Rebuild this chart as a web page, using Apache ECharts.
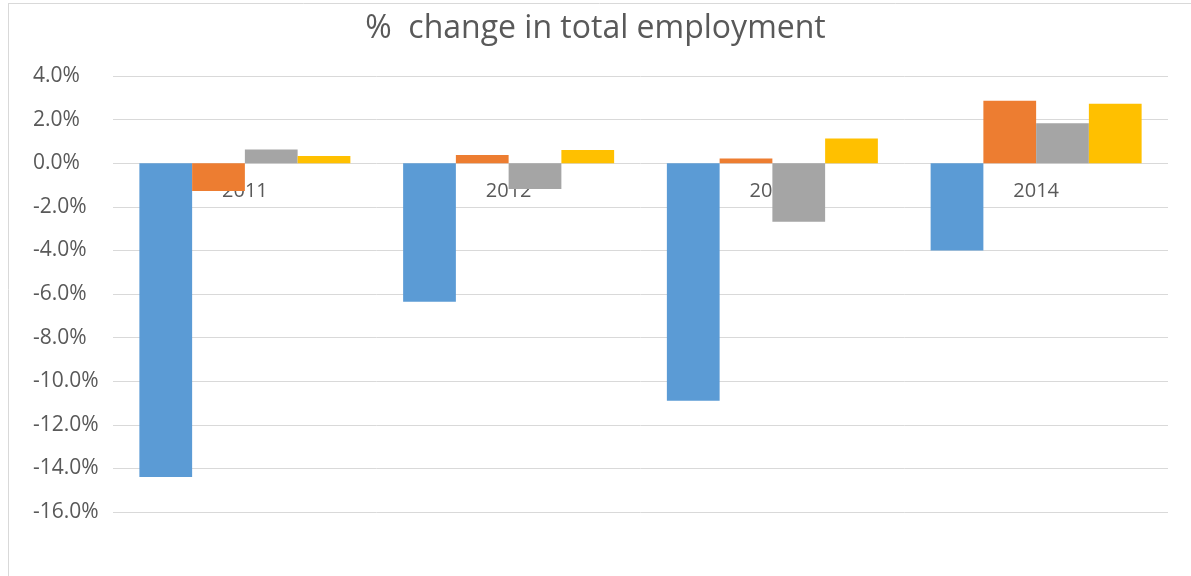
<!DOCTYPE html>
<html>
<head>
<meta charset="utf-8">
<style>
  html, body { margin: 0; padding: 0; background: #fff; }
  #chart { width: 1191px; height: 576px; }
</style>
<script src="https://cdn.jsdelivr.net/npm/echarts@6/dist/echarts.min.js"></script>
</head>
<body>
<div id="chart"></div>
<script>
// Years on the category axis
const years = ['2011', '2012', '2013', '2014'];
// Percentage change in total employment, four series per year
const series1 = [-14.4, -6.35, -10.9, -4.0];
const series2 = [-1.27, 0.38, 0.21, 2.86];
const series3 = [0.63, -1.18, -2.69, 1.83];
const series4 = [0.33, 0.61, 1.13, 2.73];
const seriesNames = ['Series1', 'Series2', 'Series3', 'Series4'];
const seriesColors = ['#5B9BD5', '#ED7D31', '#A5A5A5', '#FFC000'];
// Value axis range and step
const yMin = -16, yMax = 4, yStep = 2;

const chart = echarts.init(document.getElementById('chart'));
const textColor = '#595959';
const font = '"Open Sans", "Noto Sans", sans-serif';

const gridTop = 76, gridBottom = 64;
const plotHeight = 576 - gridTop - gridBottom;
// distance from the bottom of the plot up to the zero line, so the year labels sit just under zero
const zeroLift = plotHeight * (0 - yMin) / (yMax - yMin);

const values = [series1, series2, series3, series4];

chart.setOption({
  animation: false,
  title: {
    text: '%  change in total employment',
    left: 'center',
    top: 8,
    textStyle: { color: textColor, fontSize: 32, fontWeight: 'normal', fontFamily: font }
  },
  grid: { left: 113, right: 23, top: gridTop, bottom: gridBottom, containLabel: false },
  xAxis: {
    type: 'category',
    data: years,
    position: 'bottom',
    offset: -zeroLift,
    axisLine: { show: false, onZero: false },
    axisTick: { show: false },
    axisLabel: { color: textColor, fontSize: 20, fontFamily: font, margin: 18 },
    splitLine: { show: false }
  },
  yAxis: {
    type: 'value',
    min: yMin,
    max: yMax,
    interval: yStep,
    axisLine: { show: false },
    axisTick: { show: false },
    axisLabel: {
      color: textColor, fontSize: 21, fontFamily: font, align: 'left', margin: 80,
      formatter: v => v.toFixed(1) + '%'
    },
    splitLine: { lineStyle: { color: '#d9d9d9', width: 1 } }
  },
  graphic: [
    { type: 'line', shape: { x1: 8, y1: 3.5, x2: 1191, y2: 3.5 }, style: { stroke: '#d9d9d9', lineWidth: 1 } },
    { type: 'line', shape: { x1: 8.5, y1: 3, x2: 8.5, y2: 576 }, style: { stroke: '#d9d9d9', lineWidth: 1 } }
  ],
  series: values.map((d, i) => ({
    name: seriesNames[i],
    type: 'bar',
    data: d,
    barGap: '0%',
    barCategoryGap: '20%',
    itemStyle: { color: seriesColors[i] }
  }))
});
</script>
</body>
</html>
